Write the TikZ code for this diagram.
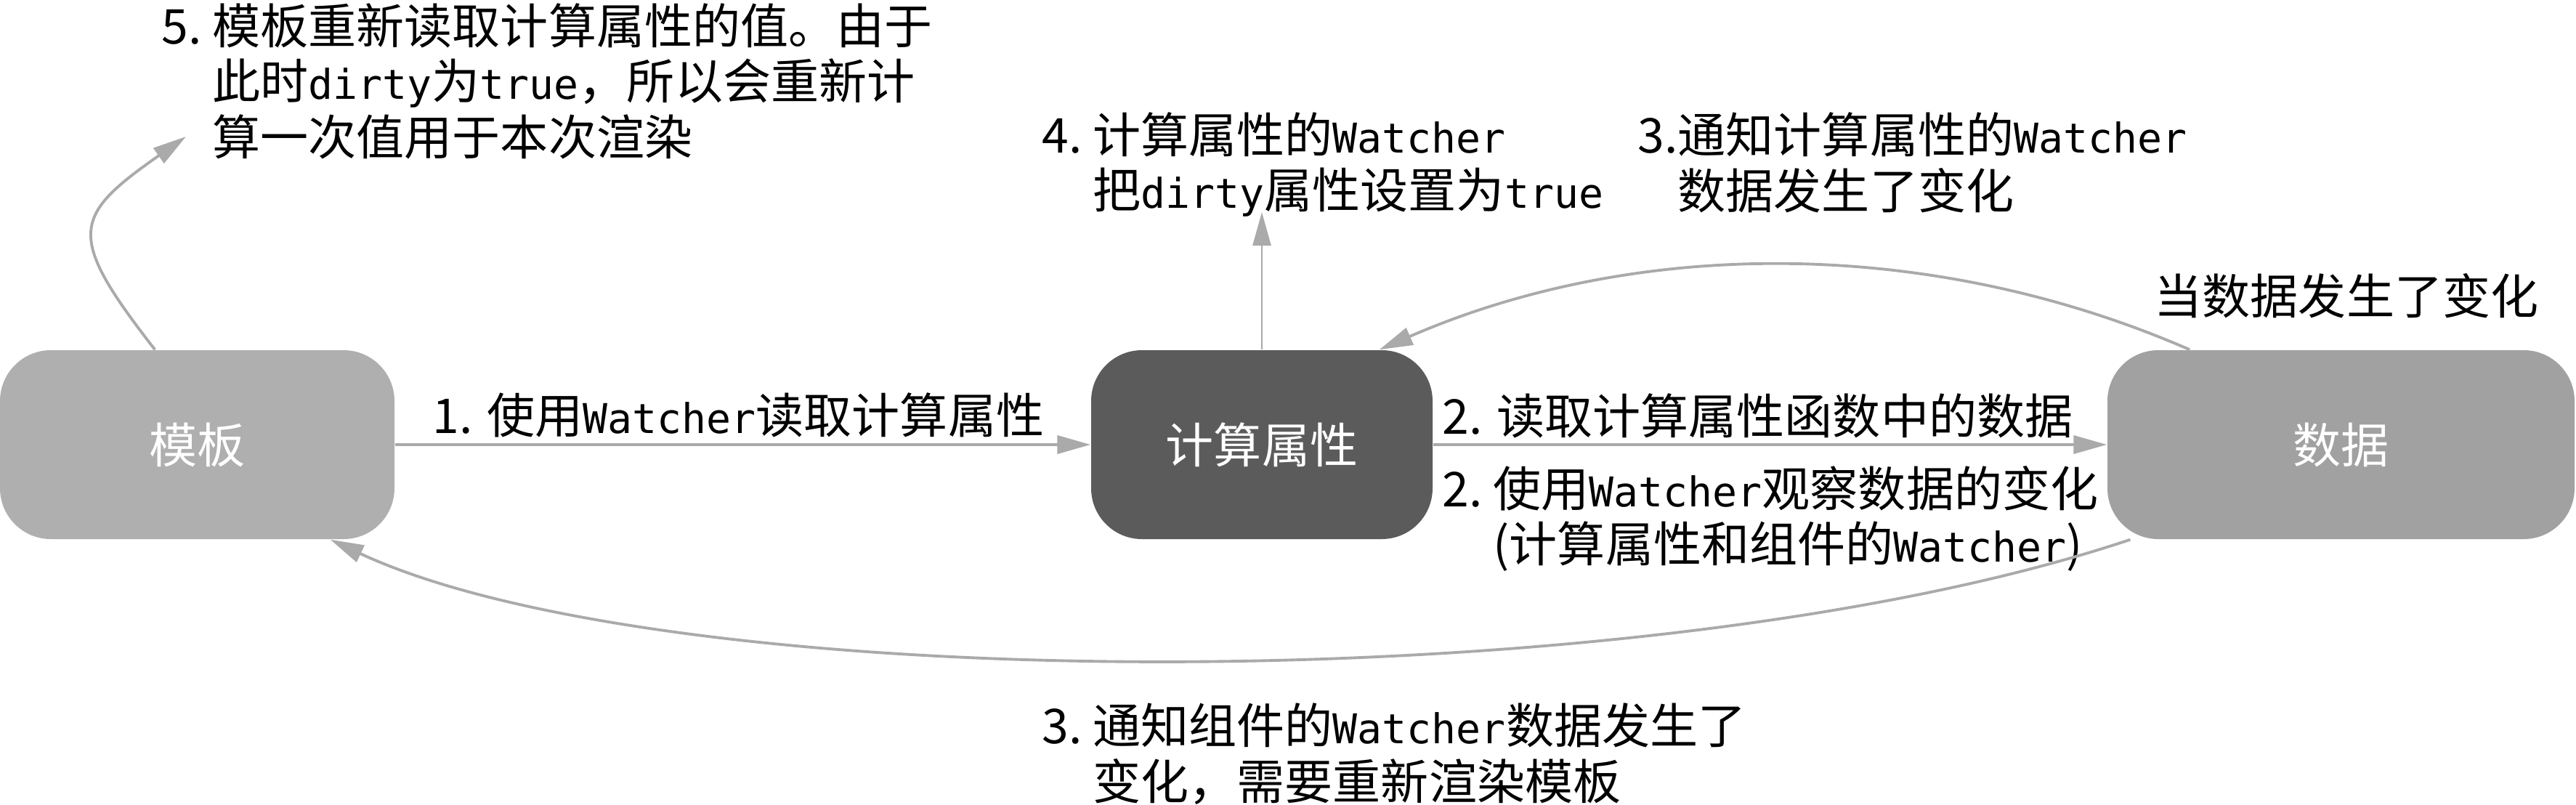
\documentclass[tikz,border=0pt]{standalone}
\usepackage{fontspec}
\setmainfont{Noto Sans CJK SC}
\newfontfamily\codefont{DejaVu Sans Mono}[Scale=0.855]
\newcommand{\code}[1]{{\codefont #1}}
\usetikzlibrary{arrows.meta}
\definecolor{tplgray}{HTML}{AFAFAF}
\definecolor{calcgray}{HTML}{5B5B5B}
\definecolor{datgray}{HTML}{A1A1A1}
\definecolor{linegray}{HTML}{AAAAAA}
\begin{document}
\begin{tikzpicture}[font=\fontsize{18.8pt}{19.9pt}\selectfont]
    \tikzset{box/.style={rounded corners=0.7cm, minimum height=2.6cm, text=white, inner sep=0pt},
      lbl/.style={anchor=base west, inner sep=0pt},
      arr/.style={draw=linegray, line width=1.1pt, -{Triangle[length=0.46cm,width=0.25cm]}}}
    \useasboundingbox (0,0) rectangle (35.46,11.07);
    \node[box, fill=tplgray, minimum width=5.43cm] (tpl) at (2.715,4.95) {模板};
    \node[box, fill=calcgray, minimum width=4.70cm] (calc) at (17.37,4.95) {计算属性};
    \node[box, fill=datgray, minimum width=6.43cm] (dat) at (32.225,4.95) {数据};
    \node[lbl] (l5) at (2.22,10.47) {\begin{tabular}[t]{@{}l@{}l@{}}
      5.~ & 模板重新读取计算属性的值。由于\\
          & 此时\code{dirty}为\code{true}，所以会重新计\\
          & 算一次值用于本次渲染\end{tabular}};
    \node[lbl] (l4) at (14.34,8.97) {\begin{tabular}[t]{@{}l@{}l@{}}
      4.~ & 计算属性的\code{Watcher}\\
          & 把\code{dirty}属性设置为\code{true}\end{tabular}};
    \node[lbl] (l3c) at (22.54,8.97) {\begin{tabular}[t]{@{}l@{}l@{}}
      3. & 通知计算属性的\code{Watcher}\\
         & 数据发生了变化\end{tabular}};
    \node[lbl] (chg) at (29.65,6.75) {当数据发生了变化};
    \node[lbl] (l1) at (5.95,5.11) {1. 使用\code{Watcher}读取计算属性};
    \node[lbl] (l2r) at (19.85,5.10) {2. 读取计算属性函数中的数据};
    \node[lbl] (l2w) at (19.85,4.10) {\begin{tabular}[t]{@{}l@{}l@{}}
      2.~ & 使用\code{Watcher}观察数据的变化\\
          & (计算属性和组件的\code{Watcher})\end{tabular}};
    \node[lbl] (l3t) at (14.34,0.84) {\begin{tabular}[t]{@{}l@{}l@{}}
      3.~ & 通知组件的\code{Watcher}数据发生了\\
          & 变化，需要重新渲染模板\end{tabular}};
    \coordinate (c4) at (17.37,8.15);
    \coordinate (c5) at (2.56,9.19);
    \draw[arr] (tpl) -- (calc);
    \draw[arr] (calc) -- (dat);
    \draw[arr, line width=0.8pt] (calc.north) -- (c4);
    \draw[arr] ([xshift=1.14cm]dat.north west) .. controls +(-3.56,1.55) and +(3.56,1.55) .. ([xshift=-0.74cm]calc.north east);
    \draw[arr] ([xshift=0.32cm]dat.south west) .. controls +(-6.66,-2.23) and +(4.69,-2.19) .. ([xshift=-0.89cm]tpl.south east);
    \draw[arr] ([xshift=2.14cm]tpl.north west) .. controls +(-1.23,1.58) and +(-1.57,-1.10) .. (c5);
  \end{tikzpicture}
\end{document}
